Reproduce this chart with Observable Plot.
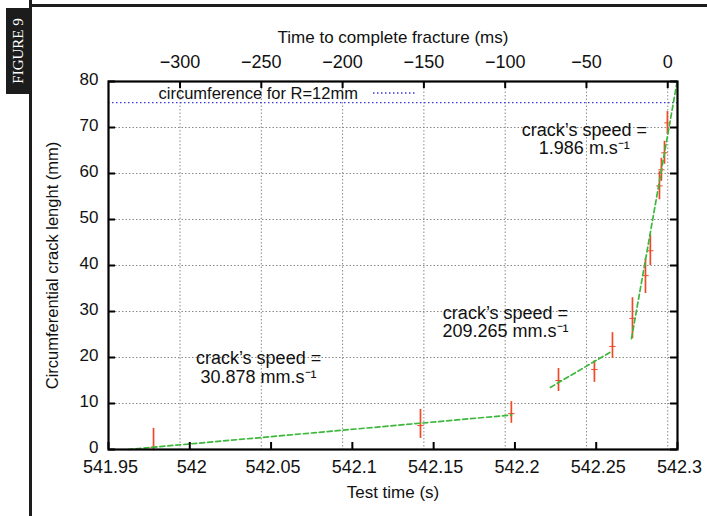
<!DOCTYPE html>
<html><head><meta charset="utf-8">
<script src="https://cdn.jsdelivr.net/npm/d3@7"></script>
<script src="https://cdn.jsdelivr.net/npm/@observablehq/plot@0.6"></script>
<style>
body{margin:0;background:#fff;}
#wrap{position:relative;width:707px;height:516px;overflow:hidden;background:#fff;}
#chart{position:absolute;left:0;top:0;}
#fig{position:absolute;left:6px;top:8px;width:23px;height:86px;background:#1c1c1c;}
#fig span{position:absolute;left:50%;top:50%;transform:translate(-50%,-50%) rotate(-90deg);color:#fff;font-family:"Liberation Serif","DejaVu Serif",serif;font-size:15px;white-space:nowrap;}
#vline{position:absolute;left:29px;top:0;width:3px;height:516px;background:#1c1c1c;}
#hline{position:absolute;left:29px;top:4px;width:678px;height:3px;background:#1c1c1c;}
</style></head>
<body>
<div id="wrap">
  <div id="chart"></div>
  <div id="vline"></div>
  <div id="hline"></div>
  <div id="fig"><span>FIGURE 9</span></div>
</div>
<script>
// ---- data ----
const testTimes = [541.9777, 542.1419, 542.1978, 542.2268, 542.2489, 542.2600, 542.2723, 542.2803, 542.2833, 542.2889, 542.2901, 542.2920, 542.2938];
const crackLen  = [0.5, 5.2, 7.8, 15.0, 17.4, 22.4, 28.5, 37.8, 43.2, 57.3, 60.8, 64.5, 71.0];
const errLow    = [0, 2.4, 5.7, 12.6, 14.6, 19.8, 24.1, 33.9, 40.0, 54.3, 58.3, 62.0, 68.5];
const errHigh   = [4.6, 8.7, 10.4, 17.6, 19.3, 25.4, 33.0, 41.5, 46.7, 60.4, 63.3, 67.0, 73.5];

const fitStartT = [541.962, 542.2218, 542.2717];
const fitEndT   = [542.198, 542.2593, 542.2998];
const fitStartL = [0, 13.5, 24.1];
const fitEndL   = [7.5, 21.3, 80];

const noteText = ["crack\u2019s speed =\n30.878 mm.s\u207B\u00B9", "crack\u2019s speed =\n209.265 mm.s\u207B\u00B9", "crack\u2019s speed =\n1.986 m.s\u207B\u00B9"];
const noteT = [542.0423, 542.1942, 542.2427];
const noteL = [17.8, 27.7, 67.5];

const circumference = 75.4; // 2*pi*12 mm
const fractureTime = 542.294;
const topTicksMs = [-300, -250, -200, -150, -100, -50, 0];
const bottomTicks = [541.95, 542, 542.05, 542.1, 542.15, 542.2, 542.25, 542.3];
const yTicks = [0, 10, 20, 30, 40, 50, 60, 70, 80];
const yGrid = [10, 20, 30, 40, 50, 60, 70];

// ---- derived tables ----
const points = testTimes.map((t, i) => ({t, c: crackLen[i], lo: errLow[i], hi: errHigh[i]}));
const fits = [];
fitStartT.forEach((t, i) => { fits.push({t, l: fitStartL[i], k: i}); fits.push({t: fitEndT[i], l: fitEndL[i], k: i}); });
const notes = noteText.map((s, i) => ({s, t: noteT[i], l: noteL[i]}));
const topTickTimes = topTicksMs.map(ms => fractureTime + ms / 1000);

const W = 707, H = 516, mL = 108, mR = 30, mT = 81, mB = 67;
const plotW = W - mL - mR, plotH = H - mT - mB;
const font = "'Liberation Sans', Arial, Helvetica, sans-serif";
const grid = {stroke: "#8a8a8a", strokeDasharray: "1.5,2", strokeWidth: 1};
const red = "#ee4a2a", green = "#3cb83c", blue = "#3d3dd6";

const chart = Plot.plot({
  width: W, height: H,
  marginLeft: mL, marginRight: mR, marginTop: mT, marginBottom: mB,
  style: {fontFamily: font, fontSize: "18px", color: "#111", background: "transparent"},
  x: {domain: [541.95, 542.3]},
  y: {domain: [0, 80]},
  marks: [
    Plot.ruleX(topTickTimes, grid),
    Plot.ruleY(yGrid, grid),
    Plot.ruleY([circumference], {stroke: blue, strokeDasharray: "1.5,2.5", strokeWidth: 1.4}),
    Plot.ruleX(points, {x: "t", y1: "lo", y2: "hi", stroke: red, strokeWidth: 1.7}),
    Plot.dot(points, {x: "t", y: "c", symbol: "plus", r: 2.2, stroke: red, strokeWidth: 1}),
    Plot.line(fits, {x: "t", y: "l", z: "k", stroke: green, strokeWidth: 1.7, strokeDasharray: "5,3"}),
    Plot.frame({stroke: "#000", strokeWidth: 2.2}),
    Plot.tickX(bottomTicks, {x: d => d, insetTop: plotH - 7, stroke: "#000", strokeWidth: 2}),
    Plot.tickX(topTickTimes, {x: d => d, insetBottom: plotH - 7, stroke: "#000", strokeWidth: 2}),
    Plot.tickY(yTicks, {y: d => d, insetRight: plotW - 7, stroke: "#000", strokeWidth: 2}),
    Plot.tickY(yTicks, {y: d => d, insetLeft: plotW - 7, stroke: "#000", strokeWidth: 2}),
    Plot.axisX(bottomTicks, {anchor: "bottom", tickSize: 0, tickPadding: 11, dx: 2, label: null,
      tickFormat: d => String(+d.toFixed(2))}),
    Plot.axisX(topTickTimes, {anchor: "top", tickSize: 0, tickPadding: 14, label: null,
      tickFormat: d => { const ms = Math.round((d - fractureTime) * 1000); return ms < 0 ? "\u2212" + (-ms) : String(ms); }}),
    Plot.axisY(yTicks, {anchor: "left", tickSize: 0, tickPadding: 10, dy: -2, fontSize: 17, label: null}),
    Plot.text(["Test time (s)"], {frameAnchor: "bottom", dy: 43, lineAnchor: "middle", fontSize: 17, fill: "#111"}),
    Plot.text(["Time to complete fracture (ms)"], {frameAnchor: "top", dy: -44, lineAnchor: "middle", fontSize: 17, fill: "#111"}),
    Plot.text(["Circumferential crack lenght (mm)"], {frameAnchor: "left", dx: -56, rotate: -90, textAnchor: "middle", lineAnchor: "middle", fontSize: 16.5, fill: "#111"}),
    Plot.text(notes, {x: "t", y: "l", text: "s", fontSize: 18, lineHeight: 1.02, fill: "#111", textAnchor: "middle", lineAnchor: "middle"}),
    Plot.text(["circumference for R=12mm"], {frameAnchor: "top-left", dx: 50, dy: 12, lineAnchor: "middle", fontSize: 16.5, fill: "#111", textAnchor: "start"}),
    (index, scales, values, dims) => {
      const g = d3.create("svg:line")
        .attr("x1", dims.marginLeft + 265).attr("x2", dims.marginLeft + 308)
        .attr("y1", dims.marginTop + 12).attr("y2", dims.marginTop + 12)
        .attr("stroke", blue).attr("stroke-width", 1.4).attr("stroke-dasharray", "1.5,2.5");
      return g.node();
    }
  ]
});
document.getElementById("chart").appendChild(chart);
</script>
</body></html>
